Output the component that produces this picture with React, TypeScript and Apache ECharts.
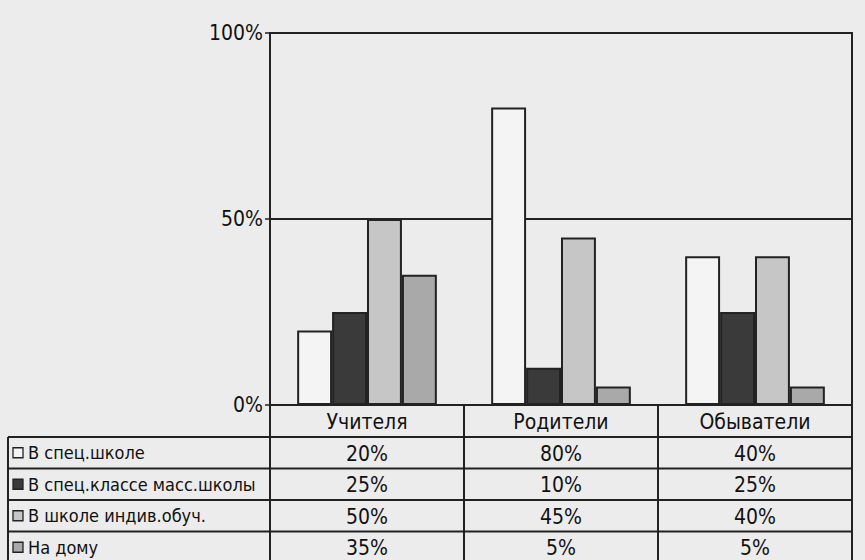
import React, { useEffect, useRef } from "react";
import * as echarts from "echarts";

const categories = ["Учителя", "Родители", "Обыватели"];
const seriesNames = ["В спец.школе", "В спец.классе масс.школы", "В школе индив.обуч.", "На дому"];
const specSchool = [20, 80, 40];
const specClass = [25, 10, 25];
const indivSchool = [50, 45, 40];
const atHome = [35, 5, 5];
const seriesValues = [specSchool, specClass, indivSchool, atHome];
const seriesColors = ["#f4f4f4", "#3a3a3a", "#c6c6c6", "#a9a9a9"];

const W = 865;
const H = 560;
const GRID_LEFT = 270;
const GRID_RIGHT = 852;
const GRID_TOP = 33;
const GRID_BOTTOM = 405;
const HEADER_BOTTOM = 437;
const ROW_H = 31.5;
const TABLE_LEFT = 8;
const FONT = "'DejaVu Sans Condensed', 'Liberation Sans', Arial, sans-serif";
const FS_NAME = 18;
const FS_VAL = 21;
const FS_Y = 21;
const LINE = "#222";

export default function App() {
  const ref = useRef<HTMLDivElement>(null);
  useEffect(() => {
    if (!ref.current) return;
    const chart = echarts.init(ref.current, null, { renderer: "svg" });
    const colW = (GRID_RIGHT - GRID_LEFT) / categories.length;
    const graphics: any[] = [];
    const vx = [GRID_LEFT];
    for (let i = 1; i <= categories.length; i++) vx.push(GRID_LEFT + colW * i);
    vx.forEach((x) => {
      graphics.push({ type: "line", shape: { x1: x, y1: GRID_BOTTOM, x2: x, y2: H }, style: { stroke: LINE, lineWidth: 2 } });
    });
    graphics.push({ type: "line", shape: { x1: TABLE_LEFT, y1: HEADER_BOTTOM, x2: TABLE_LEFT, y2: H }, style: { stroke: LINE, lineWidth: 2 } });
    for (let r = 0; r <= seriesNames.length; r++) {
      const y = HEADER_BOTTOM + r * ROW_H;
      graphics.push({ type: "line", shape: { x1: TABLE_LEFT, y1: y, x2: GRID_RIGHT, y2: y }, style: { stroke: LINE, lineWidth: 2 } });
    }
    seriesNames.forEach((name, r) => {
      const cy = HEADER_BOTTOM + r * ROW_H + ROW_H / 2;
      graphics.push({ type: "rect", shape: { x: 13, y: cy - 5, width: 10, height: 10 }, style: { fill: seriesColors[r], stroke: LINE, lineWidth: 1.3 } });
      graphics.push({ type: "text", x: 28, y: cy, style: { text: name, font: `${FS_NAME}px ${FONT}`, fill: "#111", textAlign: "left", textVerticalAlign: "middle" } });
      seriesValues[r].forEach((v, c) => {
        graphics.push({ type: "text", x: GRID_LEFT + colW * (c + 0.5), y: cy + 1, style: { text: `${v}%`, font: `${FS_VAL}px ${FONT}`, fill: "#111", textAlign: "center", textVerticalAlign: "middle" } });
      });
    });

    chart.setOption({
      animation: false,
      backgroundColor: "#ececec",
      grid: {
        left: GRID_LEFT,
        right: W - GRID_RIGHT,
        top: GRID_TOP,
        bottom: H - GRID_BOTTOM,
        show: true,
        borderColor: LINE,
        borderWidth: 2,
        backgroundColor: "transparent",
      },
      xAxis: {
        type: "category",
        data: categories,
        axisLine: { lineStyle: { color: LINE, width: 2 } },
        axisTick: { show: false },
        axisLabel: { color: "#111", fontSize: FS_VAL, fontFamily: FONT, margin: 6 },
      },
      yAxis: {
        type: "value",
        min: 0,
        max: 100,
        interval: 50,
        axisLine: { show: true, lineStyle: { color: LINE, width: 2 } },
        axisTick: { show: true, length: 5, lineStyle: { color: LINE, width: 1.5 } },
        axisLabel: { formatter: "{value}%", color: "#111", fontSize: FS_Y, fontFamily: FONT, margin: 7 },
        splitLine: { show: true, lineStyle: { color: LINE, width: 2 } },
      },
      series: seriesNames.map((name, i) => ({
        type: "bar",
        name,
        data: seriesValues[i],
        barGap: "0%",
        barCategoryGap: "28%",
        itemStyle: { color: seriesColors[i], borderColor: LINE, borderWidth: 2 },
      })),
      graphic: graphics,
    });
    return () => chart.dispose();
  }, []);
  return <div ref={ref} style={{ width: W, height: H, position: "absolute", left: 0, top: 0 }} />;
}
